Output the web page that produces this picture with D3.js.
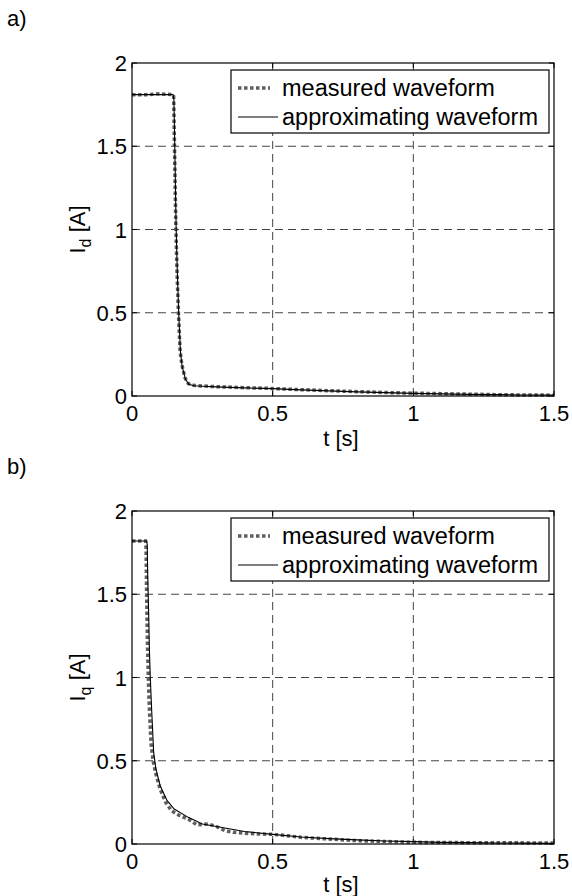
<!DOCTYPE html>
<html>
<head>
<meta charset="utf-8">
<script src="https://cdn.jsdelivr.net/npm/d3@7"></script>
<style>
  body { margin: 0; background: #fff; }
  text { font-family: "Liberation Sans", Arial, sans-serif; fill: #000; }
</style>
</head>
<body>
<svg id="chart" width="572" height="896"></svg>
<script>
// ---------------------------------------------------------------
// data read off the picture : [t (s), I (A)]
// ---------------------------------------------------------------
var xTicks = [0, 0.5, 1, 1.5];
var yTicks = [0, 0.5, 1, 1.5, 2];
var legendLabels = ["measured waveform", "approximating waveform"];

// panel a) - Id
var idMeasured = [[0,1.81],[0.05,1.81],[0.1,1.815],[0.145,1.81],[0.148,1.8],[0.15,1.6],[0.153,1.3],
  [0.156,1.0],[0.16,0.75],[0.165,0.5],[0.171,0.27],[0.177,0.19],[0.188,0.11],[0.2,0.075],[0.215,0.064],
  [0.25,0.06],[0.3,0.056],[0.4,0.05],[0.5,0.045],[0.6,0.038],[0.7,0.032],[0.8,0.026],[0.9,0.021],
  [1.0,0.017],[1.1,0.014],[1.2,0.011],[1.3,0.008],[1.4,0.006],[1.5,0.005]];
var idApprox = [[0,1.81],[0.146,1.81],[0.149,1.78],[0.151,1.6],[0.154,1.3],[0.157,1.0],[0.161,0.75],
  [0.166,0.5],[0.172,0.27],[0.178,0.18],[0.19,0.1],[0.202,0.07],[0.22,0.062],[0.25,0.059],[0.3,0.055],
  [0.4,0.049],[0.5,0.044],[0.6,0.037],[0.7,0.031],[0.8,0.025],[0.9,0.02],[1.0,0.016],[1.1,0.013],
  [1.2,0.01],[1.3,0.008],[1.4,0.006],[1.5,0.005]];

// panel b) - Iq
var iqMeasured = [[0,1.82],[0.048,1.82],[0.05,1.78],[0.052,1.5],[0.055,1.2],[0.058,1.0],[0.062,0.8],
  [0.068,0.6],[0.075,0.5],[0.085,0.42],[0.1,0.33],[0.12,0.25],[0.14,0.2],[0.17,0.17],[0.2,0.15],
  [0.23,0.115],[0.27,0.12],[0.3,0.105],[0.33,0.08],[0.36,0.07],[0.4,0.065],[0.45,0.06],[0.5,0.058],
  [0.55,0.05],[0.6,0.04],[0.7,0.03],[0.8,0.02],[0.9,0.015],[1.0,0.01],[1.2,0.008],[1.5,0.006]];
var iqApprox = [[0,1.82],[0.052,1.82],[0.054,1.8],[0.056,1.6],[0.059,1.4],[0.062,1.15],[0.065,1.0],
  [0.07,0.8],[0.077,0.55],[0.085,0.45],[0.1,0.35],[0.125,0.26],[0.15,0.21],[0.2,0.16],[0.25,0.12],
  [0.3,0.105],[0.35,0.09],[0.4,0.075],[0.5,0.058],[0.6,0.042],[0.7,0.032],[0.8,0.025],[0.9,0.018],
  [1.0,0.014],[1.1,0.01],[1.2,0.008],[1.3,0.006],[1.4,0.005],[1.5,0.004]];

var svg = d3.select("#chart");

// ---------------------------------------------------------------
// one panel: axes box, dashed grid, two curves, legend
// ---------------------------------------------------------------
function drawPanel(top, tag, sub, measured, approx, titleGap) {
  var left = 132, right = 554, height = 333;

  var x = d3.scaleLinear().domain([0, 1.5]).range([left, right]);
  var y = d3.scaleLinear().domain([0, 2]).range([top + height, top]);

  var g = svg.append("g");

  // panel tag a) / b)
  g.append("text").attr("x", 7).attr("y", top - 37)
    .style("font-size", "22px").text(tag);

  // grid (inner ticks only)
  g.selectAll(".gx").data(xTicks.slice(1, -1)).enter().append("line")
    .attr("x1", d => x(d)).attr("x2", d => x(d))
    .attr("y1", y(0)).attr("y2", y(2))
    .attr("stroke", "#444").attr("stroke-dasharray", "8,5");
  g.selectAll(".gy").data(yTicks.slice(1, -1)).enter().append("line")
    .attr("x1", left).attr("x2", right)
    .attr("y1", d => y(d)).attr("y2", d => y(d))
    .attr("stroke", "#444").attr("stroke-dasharray", "8,5");

  // ticks inward on all four sides
  var tl = 5;
  var gt = g.append("g").attr("stroke", "#000");
  xTicks.forEach(function(d) {
    gt.append("line").attr("x1", x(d)).attr("x2", x(d)).attr("y1", y(0)).attr("y2", y(0) - tl);
    gt.append("line").attr("x1", x(d)).attr("x2", x(d)).attr("y1", y(2)).attr("y2", y(2) + tl);
  });
  yTicks.forEach(function(d) {
    gt.append("line").attr("x1", left).attr("x2", left + tl).attr("y1", y(d)).attr("y2", y(d));
    gt.append("line").attr("x1", right).attr("x2", right - tl).attr("y1", y(d)).attr("y2", y(d));
  });

  // curves
  var line = d3.line().x(d => x(d[0])).y(d => y(d[1]));
  g.append("path").datum(measured).attr("d", line)
    .attr("fill", "none").attr("stroke", "#5f5f5f")
    .attr("stroke-width", 3.5).attr("stroke-dasharray", "3.5,2.5");
  g.append("path").datum(approx).attr("d", line)
    .attr("fill", "none").attr("stroke", "#000").attr("stroke-width", 1.1);

  // axes box
  g.append("rect").attr("x", left).attr("y", top)
    .attr("width", right - left).attr("height", height)
    .attr("fill", "none").attr("stroke", "#000").attr("stroke-width", 1.2);

  // tick labels
  g.selectAll(".tx").data(xTicks).enter().append("text")
    .attr("x", d => x(d)).attr("y", y(0) + 25)
    .attr("text-anchor", "middle").style("font-size", "22px")
    .text(d => d3.format("~g")(d));
  g.selectAll(".ty").data(yTicks).enter().append("text")
    .attr("x", left - 5).attr("y", d => y(d) + 8)
    .attr("text-anchor", "end").style("font-size", "22px")
    .text(d => d3.format("~g")(d));

  // axis titles
  g.append("text").attr("x", 341).attr("y", y(0) + titleGap)
    .attr("text-anchor", "middle").style("font-size", "22px").text("t [s]");

  var yl = g.append("text")
    .attr("transform", "translate(85," + (top + height / 2) + ") rotate(-90)")
    .attr("text-anchor", "middle").style("font-size", "22px");
  yl.append("tspan").text("I");
  yl.append("tspan").attr("dy", 6).style("font-size", "16px").text(sub);
  yl.append("tspan").attr("dy", -6).text(" [A]");

  // legend
  var lx = 231, ly = top + 7, lw = 318, lh = 63;
  var lg = g.append("g");
  lg.append("rect").attr("x", lx).attr("y", ly).attr("width", lw).attr("height", lh)
    .attr("fill", "#fff").attr("stroke", "#000").attr("stroke-width", 1.2);
  lg.append("line").attr("x1", lx + 7).attr("x2", lx + 39)
    .attr("y1", ly + 18).attr("y2", ly + 18)
    .attr("stroke", "#5f5f5f").attr("stroke-width", 3.5).attr("stroke-dasharray", "3.5,2.5");
  lg.append("line").attr("x1", lx + 7).attr("x2", lx + 47)
    .attr("y1", ly + 47).attr("y2", ly + 47)
    .attr("stroke", "#000").attr("stroke-width", 1.1);
  lg.selectAll("text").data(legendLabels).enter().append("text")
    .attr("x", lx + 51).attr("y", (d, i) => ly + 26 + i * 29)
    .style("font-size", "23.5px").text(d => d);
}

drawPanel(63, "a)", "d", idMeasured, idApprox, 50);
drawPanel(511, "b)", "q", iqMeasured, iqApprox, 48);
</script>
</body>
</html>
